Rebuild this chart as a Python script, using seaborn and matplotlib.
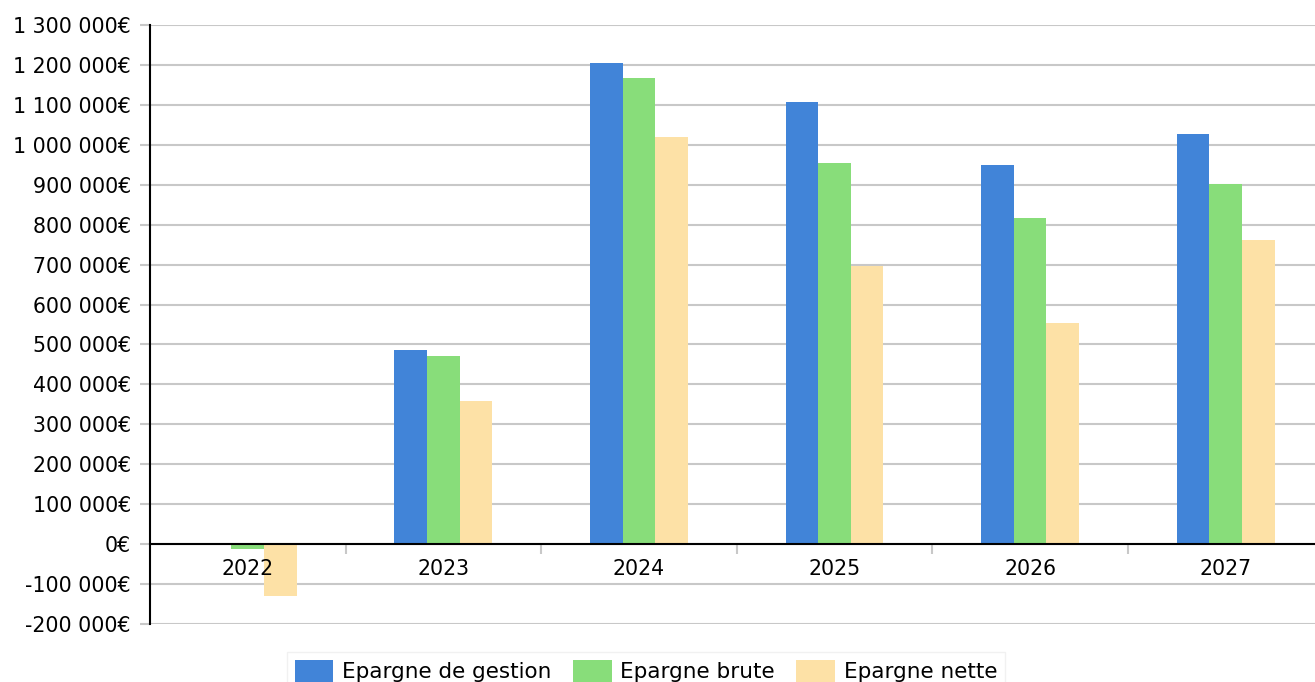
import matplotlib
matplotlib.use("Agg")
import matplotlib.pyplot as plt
import matplotlib.ticker as mticker
import seaborn as sns
import pandas as pd
import numpy as np

years = ["2022", "2023", "2024", "2025", "2026", "2027"]
series = ["Epargne de gestion", "Epargne brute", "Epargne nette"]
gestion = [0, 486000, 1204000, 1107000, 949000, 1027000]
brute = [-12000, 471000, 1167000, 954000, 816000, 902000]
nette = [-130000, 358000, 1019000, 696000, 553000, 761000]
colors = ["#4184d8", "#88dd7a", "#fde1a6"]

df = pd.DataFrame({
    "year": years * 3,
    "serie": [series[0]] * 6 + [series[1]] * 6 + [series[2]] * 6,
    "value": gestion + brute + nette,
})

sns.set_theme(style="white")
plt.rcParams["font.family"] = ["DejaVu Sans"]
plt.rcParams["text.color"] = "black"

fig = plt.figure(figsize=(13.15, 6.82), dpi=100)
W, H = 1315, 682
left, right, top, bottom = 150, 1323.5, 25, 624
ax = fig.add_axes([left / W, 1 - bottom / H, (right - left) / W, (bottom - top) / H])

sns.barplot(data=df, x="year", y="value", hue="serie", order=years,
            hue_order=series, palette=colors, width=0.5, saturation=1,
            linewidth=0, ax=ax, legend=False)

ax.set_ylim(-200000, 1300000)
ax.set_xlim(-0.5, 5.5)
ax.yaxis.set_major_locator(mticker.MultipleLocator(100000))
ax.yaxis.set_major_formatter(mticker.FuncFormatter(
    lambda v, p: f"{int(round(v)):,}".replace(",", " ") + "€"))
ax.grid(axis="y", color="#c8c8c8", linewidth=1.5, zorder=0)
ax.set_axisbelow(True)
ax.xaxis.set_zorder(3)
ax.tick_params(axis="y", which="major", length=7.2, width=1.5, color="#c8c8c8",
               pad=6.5, labelsize=14.8, labelcolor="black", left=True)

ax.spines["top"].set_visible(False)
ax.spines["right"].set_visible(False)
ax.spines["left"].set_color("black")
ax.spines["left"].set_linewidth(1.5)
ax.spines["bottom"].set_position(("data", 0))
ax.spines["bottom"].set_color("black")
ax.spines["bottom"].set_linewidth(1.5)
ax.spines["bottom"].set_zorder(5)

ax.set_xticks(range(len(years)))
ax.set_xticklabels(years)
ax.set_xticks(np.arange(0.5, len(years) - 0.5, 1.0), minor=True)
ax.tick_params(axis="x", which="major", length=0, pad=11, labelsize=14.8,
               labelcolor="black")
ax.tick_params(axis="x", which="minor", length=7, width=1.5, color="#c8c8c8",
               bottom=True)
ax.set_xlabel("")
ax.set_ylabel("")

handles = [matplotlib.patches.Patch(facecolor=c, edgecolor="none") for c in colors]
leg = fig.legend(handles, series, loc="upper center",
                 bbox_to_anchor=(646 / W, 1 - 652 / H), ncol=3, frameon=True,
                 fancybox=False, edgecolor="#eeeeee", fontsize=15.5,
                 handlelength=1.8, handleheight=1.3, handletextpad=0.4,
                 columnspacing=1.0, borderpad=0.35, borderaxespad=0,
                 labelcolor="black")
leg.get_frame().set_linewidth(1.0)

fig.savefig("out.png", dpi=100)
